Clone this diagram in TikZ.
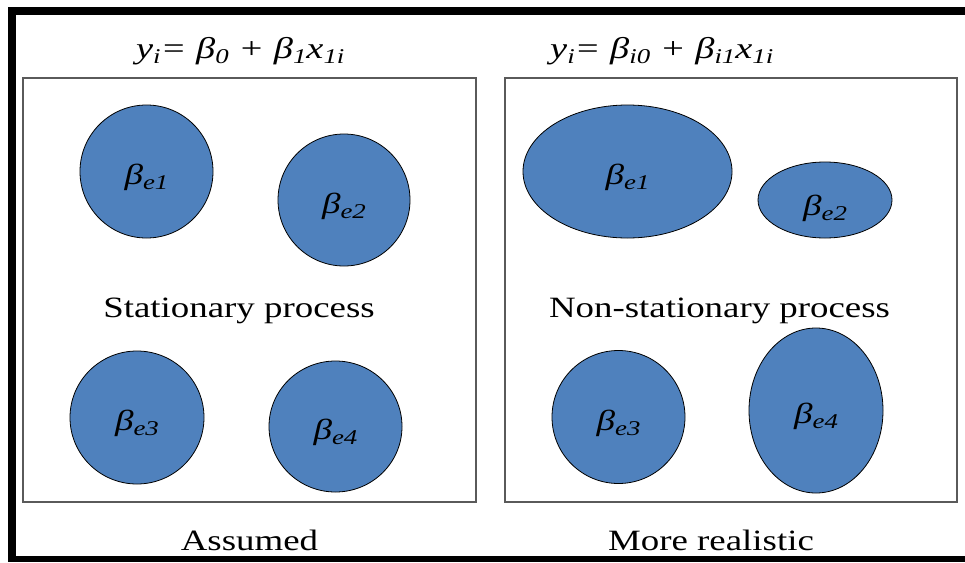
\documentclass[tikz,border=0pt]{standalone}
\usepackage{fontspec}
\setmainfont{Liberation Serif}
\newfontfamily\widefont[FakeStretch=1.25]{Liberation Serif}
\newfontfamily\eqfont[FakeStretch=1.28]{Liberation Serif}
\usetikzlibrary{shapes.geometric}
\definecolor{officeblue}{HTML}{4F81BD}
\definecolor{boxgray}{HTML}{5A5A5A}
\tikzset{
  blob/.style={ellipse, draw=black, line width=0.8pt, fill=officeblue, inner sep=0pt},
  panel/.style={draw=boxgray, line width=1.6pt},
  caption/.style={font=\widefont\fontsize{29.5}{32}\selectfont, inner sep=0pt, anchor=base},
  eqn/.style={font=\eqfont\itshape\fontsize{30}{32}\selectfont, inner sep=0pt, anchor=base west},
  blabel/.style={font=\eqfont\itshape\fontsize{29}{30}\selectfont, anchor=base, inner sep=0pt}
}
\newcommand{\sbs}[1]{\raisebox{-5pt}{\fontsize{21}{21}\selectfont #1}}
\newcommand{\bsub}[1]{β\sbs{#1}}
\begin{document}
\begin{tikzpicture}[x=1pt,y=-1pt]
\useasboundingbox (0,0) rectangle (965,562);
% outer frame
\fill[black] (8,7) rectangle (965,15);
\fill[black] (8,7) rectangle (16,562);
\fill[black] (8,556) rectangle (965,562);
% panels
\draw[panel] (23,78) rectangle (476,502);
\draw[panel] (505,78) rectangle (957,502);
% equations
\node[eqn] (eqA) at (136,58) {y\sbs{i}= β\sbs{0} + β\sbs{1}x\sbs{1i}};
\node[eqn] (eqB) at (550,58) {y\sbs{i}= β\sbs{i0} + β\sbs{i1}x\sbs{1i}};
% left panel circles
\node[blob, minimum width=133pt, minimum height=133pt] (l1) at (146.5,171.5) {};
\node[blob, minimum width=132pt, minimum height=132pt] (l2) at (344,200) {};
\node[blob, minimum width=134pt, minimum height=133pt] (l3) at (137,417.5) {};
\node[blob, minimum width=133pt, minimum height=131pt] (l4) at (335.5,426.5) {};
\node[blabel] at ([yshift=-13pt]l1.center) {\bsub{e1}};
\node[blabel] at ([yshift=-13pt]l2.center) {\bsub{e2}};
\node[blabel] at ([yshift=-13pt]l3.center) {\bsub{e3}};
\node[blabel] at ([yshift=-13pt]l4.center) {\bsub{e4}};
% right panel ellipses
\node[blob, minimum width=209pt, minimum height=133pt] (r1) at (627.5,171.5) {};
\node[blob, minimum width=134pt, minimum height=76pt] (r2) at (825,200) {};
\node[blob, minimum width=133pt, minimum height=133pt] (r3) at (618.5,417) {};
\node[blob, minimum width=134pt, minimum height=165pt] (r4) at (816,410.5) {};
\node[blabel] at ([yshift=-13pt]r1.center) {\bsub{e1}};
\node[blabel] at ([yshift=-15pt]r2.center) {\bsub{e2}};
\node[blabel] at ([yshift=-13pt]r3.center) {\bsub{e3}};
\node[blabel] at ([yshift=-13pt]r4.center) {\bsub{e4}};
% captions
\node[caption] (statL) at (239,317) {Stationary process};
\node[caption] (statR) at (719.5,317) {Non-stationary process};
\node[caption] (capL) at (249.5,550) {Assumed};
\node[caption] (capR) at (711,550) {More realistic};
\end{tikzpicture}
\end{document}
